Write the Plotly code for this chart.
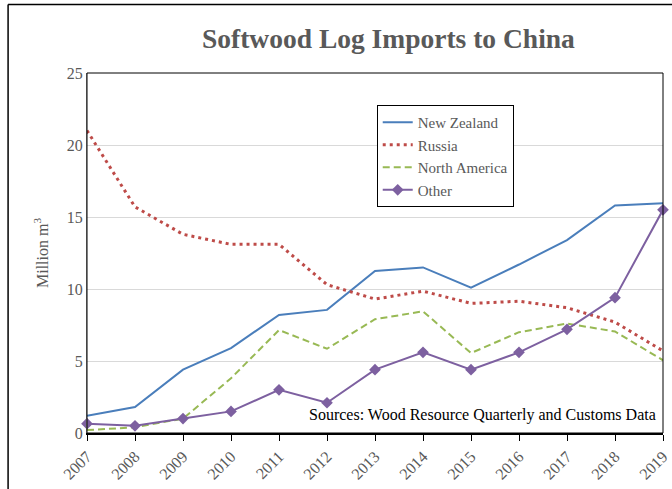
import plotly.graph_objects as go

years = list(range(2007, 2020))
new_zealand = [1.2, 1.8, 4.4, 5.9, 8.2, 8.55, 11.25, 11.5, 10.1, 11.7, 13.4, 15.8, 15.95]
russia = [21.0, 15.7, 13.8, 13.1, 13.1, 10.3, 9.3, 9.85, 9.0, 9.15, 8.7, 7.7, 5.7]
north_america = [0.2, 0.4, 1.0, 3.8, 7.15, 5.85, 7.9, 8.45, 5.55, 7.0, 7.6, 7.05, 5.05]
other = [0.65, 0.5, 1.0, 1.5, 3.0, 2.1, 4.4, 5.6, 4.4, 5.6, 7.2, 9.4, 15.5]
y_ticks = [0, 5, 10, 15, 20, 25]

FONT = "Liberation Serif"
GRAY = "#595959"

fig = go.Figure()
fig.add_trace(go.Scatter(x=years, y=new_zealand, name="New Zealand", mode="lines",
                         line=dict(color="#4A7EBB", width=2), cliponaxis=False))
fig.add_trace(go.Scatter(x=years, y=russia, name="Russia", mode="lines",
                         line=dict(color="#BE4B48", width=3, dash="3px,4px"), cliponaxis=False))
fig.add_trace(go.Scatter(x=years, y=north_america, name="North America", mode="lines",
                         line=dict(color="#98B954", width=2, dash="7px,4px"), cliponaxis=False))
fig.add_trace(go.Scatter(x=years, y=other, name="Other", mode="lines+markers",
                         line=dict(color="#7D60A0", width=2),
                         marker=dict(symbol="diamond", size=9, color="#7D60A0"), cliponaxis=False))

fig.update_layout(
    width=672, height=489,
    margin=dict(l=87, r=9, t=73, b=56),
    paper_bgcolor="white", plot_bgcolor="white",
    font=dict(family=FONT, color=GRAY, size=16),
    title=dict(text="<b>Softwood Log Imports to China</b>", x=0.578, xanchor="center",
               y=0.922, yanchor="middle", font=dict(family=FONT, size=27.5, color=GRAY)),
    showlegend=True,
    legend=dict(x=0.503, y=0.911, xanchor="left", yanchor="top",
                bordercolor="black", borderwidth=1, bgcolor="white",
                entrywidth=118, entrywidthmode="pixels",
                font=dict(family=FONT, size=15, color=GRAY), tracegroupgap=0),
    xaxis=dict(range=[2007, 2019], tickmode="array", tickvals=years,
               ticktext=[str(y) for y in years], tickangle=-45, automargin=False,
               ticks="outside", ticklen=6, tickcolor="black", tickwidth=1,
               showline=True, linecolor="black", linewidth=2, showgrid=False,
               zeroline=False, tickfont=dict(family=FONT, size=16, color=GRAY)),
    yaxis=dict(range=[0, 25], tickmode="array", tickvals=y_ticks, automargin=False,
               showgrid=True, gridcolor="#d9d9d9", gridwidth=1, zeroline=False,
               showline=True, linecolor="#868686", linewidth=1, ticks="",
               tickfont=dict(family=FONT, size=16, color=GRAY),
               title=dict(text="Million m<sup>3</sup>", standoff=14,
                          font=dict(family=FONT, size=16, color=GRAY))),
    annotations=[dict(text="Sources: Wood Resource Quarterly and Customs Data",
                      xref="paper", yref="paper", x=0.992, y=0.05,
                      xanchor="right", yanchor="middle", showarrow=False,
                      font=dict(family=FONT, size=16, color="black"))],
    shapes=[
        dict(type="rect", xref="paper", yref="paper", x0=0, x1=1, y0=0, y1=1,
             line=dict(color="black", width=1), layer="above"),
        dict(type="line", xref="paper", yref="paper", x0=-0.137, x1=1.2, y0=1.19, y1=1.19,
             line=dict(color="black", width=1.5)),
        dict(type="line", xref="paper", yref="paper", x0=-0.137, x1=-0.137, y0=1.19, y1=-0.3,
             line=dict(color="black", width=1.5)),
    ],
)

fig.write_html("out.html")
